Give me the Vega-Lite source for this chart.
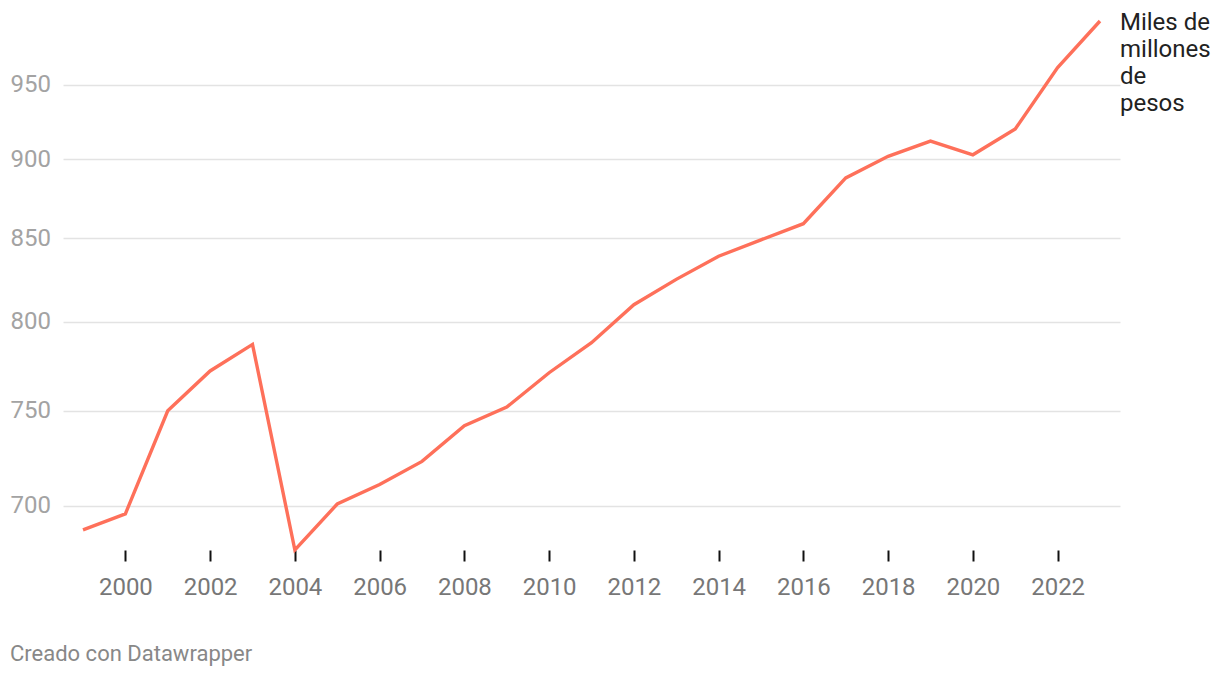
{
  "$schema": "https://vega.github.io/schema/vega-lite/v6.json",
  "width": 1057,
  "height": 529,
  "autosize": {"type": "none"},
  "padding": {"left": 63, "top": 21, "right": 100, "bottom": 128},
  "background": "white",
  "config": {
    "view": {"stroke": null},
    "font": "Roboto"
  },
  "title": {
    "text": "Creado con Datawrapper",
    "orient": "bottom",
    "anchor": "start",
    "frame": "bounds",
    "offset": 45,
    "fontSize": 22,
    "fontWeight": "normal",
    "color": "#888888",
    "font": "Roboto"
  },
  "layer": [
    {
      "data": {
        "values": [
          {"year": 1999, "value": 688},
          {"year": 2000, "value": 696},
          {"year": 2001, "value": 750},
          {"year": 2002, "value": 772},
          {"year": 2003, "value": 787},
          {"year": 2004, "value": 678},
          {"year": 2005, "value": 701},
          {"year": 2006, "value": 711},
          {"year": 2007, "value": 723},
          {"year": 2008, "value": 742},
          {"year": 2009, "value": 752},
          {"year": 2010, "value": 771},
          {"year": 2011, "value": 788},
          {"year": 2012, "value": 810},
          {"year": 2013, "value": 825},
          {"year": 2014, "value": 839},
          {"year": 2015, "value": 849},
          {"year": 2016, "value": 859},
          {"year": 2017, "value": 888},
          {"year": 2018, "value": 902},
          {"year": 2019, "value": 912},
          {"year": 2020, "value": 903},
          {"year": 2021, "value": 920},
          {"year": 2022, "value": 962},
          {"year": 2023, "value": 995}
        ]
      },
      "mark": {"type": "line", "color": "#fe705a", "strokeWidth": 3.4},
      "encoding": {
        "x": {
          "field": "year",
          "type": "quantitative",
          "scale": {"domain": [1998.528, 2023.472], "nice": false, "zero": false},
          "axis": {
            "title": null,
            "values": [2000, 2002, 2004, 2006, 2008, 2010, 2012, 2014, 2016, 2018, 2020, 2022],
            "format": "d",
            "grid": false,
            "domain": false,
            "tickColor": "#111111",
            "tickWidth": 2,
            "tickSize": 11,
            "labelPadding": 14,
            "labelColor": "#777777",
            "labelFontSize": 24,
            "labelFont": "Roboto"
          }
        },
        "y": {
          "field": "value",
          "type": "quantitative",
          "scale": {"type": "log", "domain": [678, 995], "nice": false, "zero": false},
          "axis": {
            "title": null,
            "values": [700, 750, 800, 850, 900, 950],
            "format": "d",
            "grid": true,
            "gridColor": "#e3e3e3",
            "gridWidth": 1.5,
            "domain": false,
            "ticks": false,
            "labelAlign": "left",
            "labelBaseline": "middle",
            "labelPadding": 53,
            "labelColor": "#a3a3a3",
            "labelFontSize": 24,
            "labelFont": "Roboto"
          }
        }
      }
    },
    {
      "data": {"values": [{"label": "unit"}]},
      "mark": {
        "type": "text",
        "text": ["Miles de", "millones", "de", "pesos"],
        "align": "left",
        "baseline": "alphabetic",
        "dx": 20,
        "dy": 9,
        "fontSize": 24,
        "lineHeight": 27,
        "color": "#222222",
        "font": "Roboto"
      },
      "encoding": {
        "x": {"datum": 2023, "type": "quantitative"},
        "y": {"datum": 995, "type": "quantitative"}
      }
    }
  ]
}
